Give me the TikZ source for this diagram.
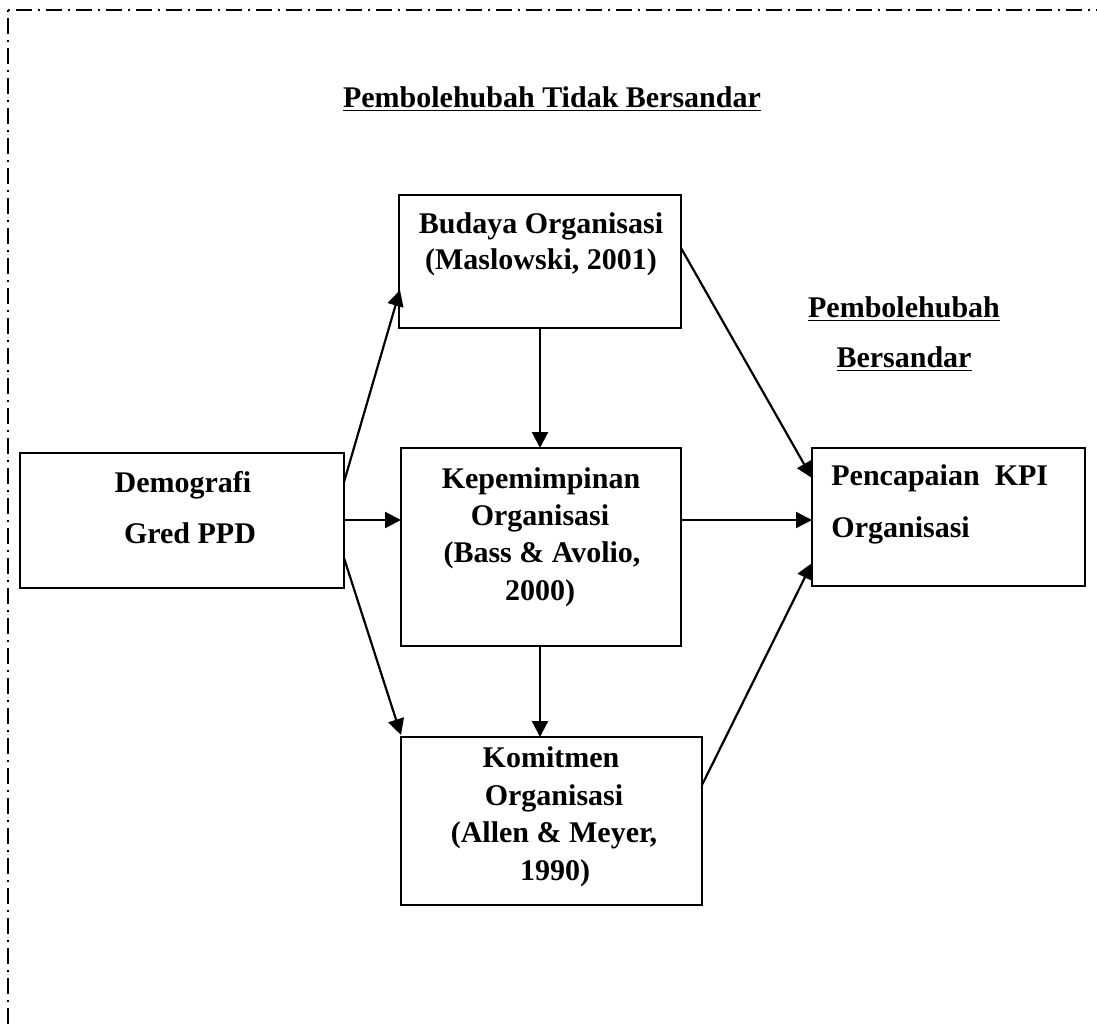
\documentclass[tikz,border=0pt]{standalone}
\usepackage{fontspec}
\setmainfont{Liberation Serif}
\usetikzlibrary{arrows.meta}
\begin{document}
\begin{tikzpicture}[x=0.5pt,y=-0.5pt,
  box/.style={draw,line width=1pt},
  lbl/.style={anchor=base,inner sep=0pt,font=\fontsize{15}{18}\selectfont\bfseries},
  lbll/.style={lbl,anchor=base west},
  link/.style={line width=1.1pt,-{Triangle[length=8pt,width=8pt]}},
  frame/.style={line width=1pt,dash pattern=on 1pt off 3pt on 8pt off 3pt}]
\useasboundingbox (0,0) rectangle (1097,1028);

% dash-dot frame (only top and left edges fall inside the page)
\coordinate (corner) at (8,10);
\coordinate (frameR) at (1120,10);
\coordinate (frameB) at (8,1050);
\draw[frame] (corner) -- (frameR);
\draw[frame] (corner) -- (frameB);

% boxes
\draw[box] (20,453) rectangle (344,588);
\draw[box] (399,195) rectangle (681,328);
\draw[box] (401,448) rectangle (681,646);
\draw[box] (401,737) rectangle (702,905);
\draw[box] (812,448) rectangle (1085,586);

% headings
\node[lbl] (t1) at (552,107) {\underline{Pembolehubah Tidak Bersandar}};
\node[lbl] (t2) at (904,317) {\underline{Pembolehubah}};
\node[lbl] (t3) at (904,367) {\underline{Bersandar}};

% box texts
\node[lbl] (d1) at (183,492) {Demografi};
\node[lbl] (d2) at (190,543) {Gred PPD};
\node[lbl] (b1) at (541,233) {Budaya Organisasi};
\node[lbl] (b2) at (541,269) {(Maslowski, 2001)};
\node[lbl] (k1) at (541,488) {Kepemimpinan};
\node[lbl] (k2) at (540,525) {Organisasi};
\node[lbl] (k3) at (542,562) {(Bass \& Avolio,};
\node[lbl] (k4) at (540,600) {2000)};
\node[lbl] (m1) at (551,767) {Komitmen};
\node[lbl] (m2) at (554,805) {Organisasi};
\node[lbl] (m3) at (554,842) {(Allen \& Meyer,};
\node[lbl] (m4) at (555,880) {1990)};
\node[lbll] (p1) at (831,485) {Pencapaian\ \ KPI};
\node[lbll] (p2) at (831,537) {Organisasi};

% connector end points on the box edges
\coordinate (dA) at (344,482);
\coordinate (dB) at (344,520);
\coordinate (dC) at (344,558);
\coordinate (bIn) at (400,290);
\coordinate (bBot) at (540,328);
\coordinate (bOut) at (681,248);
\coordinate (kTop) at (540,448);
\coordinate (kIn) at (401,520);
\coordinate (kOut) at (681,520);
\coordinate (kBot) at (540,646);
\coordinate (mTop) at (540,737);
\coordinate (mIn) at (401,735);
\coordinate (mOut) at (702,785);
\coordinate (pA) at (812,478);
\coordinate (pB) at (812,520);
\coordinate (pC) at (812,563);

% connectors
\draw[link] (dA) -- (bIn);
\draw[link] (dB) -- (kIn);
\draw[link] (dC) -- (mIn);
\draw[link] (bBot) -- (kTop);
\draw[link] (kBot) -- (mTop);
\draw[link] (bOut) -- (pA);
\draw[link] (kOut) -- (pB);
\draw[link] (mOut) -- (pC);
\end{tikzpicture}
\end{document}
